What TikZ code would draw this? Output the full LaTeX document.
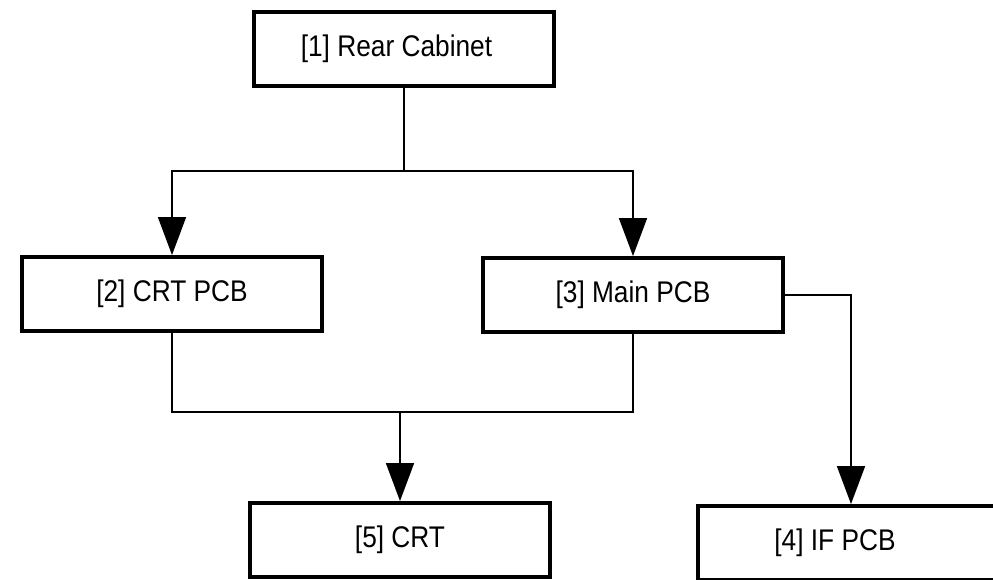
\documentclass[tikz,border=0pt]{standalone}
\usepackage{fontspec}
\setmainfont{Liberation Sans}[FakeStretch=0.88]
\usepackage{tikz}
\usetikzlibrary{arrows.meta}

\tikzset{
  part/.style={draw, line width=2.2pt, minimum width=6cm, minimum height=1.48cm,
    inner sep=0pt, font=\fontsize{17}{20}\selectfont},
  wire/.style={line width=0.9pt},
  feed/.style={wire, -{Triangle[width=0.56cm,length=0.76cm]}}
}

\begin{document}
\begin{tikzpicture}[x=0.02cm, y=-0.02cm]
\useasboundingbox (0,0) rectangle (993,580);
\clip (0,0) rectangle (993,580);

\node[part] (rear) at (404,49) {[1] Rear Cabinet\hspace*{0.3cm}};
\node[part] (crtpcb) at (172,294) {[2] CRT PCB};
\node[part] (mainpcb) at (633,295) {[3] Main PCB};
\node[part] (crt) at (400,540) {[5] CRT};
\node[part, minimum width=6.12cm] (ifpcb) at (851,543) {[4] IF PCB\hspace*{0.64cm}};

\coordinate (split) at (404,171);
\coordinate (join) at (400,412);

\draw[wire] (rear.south) -- (split);
\draw[feed] (split) -| (crtpcb.north);
\draw[feed] (split) -| (mainpcb.north);

\draw[wire] (crtpcb.south) |- (join) -| (mainpcb.south);
\draw[feed] (join) -- (crt.north);

\draw[feed] (mainpcb.east) -| (ifpcb.north);
\end{tikzpicture}
\end{document}
